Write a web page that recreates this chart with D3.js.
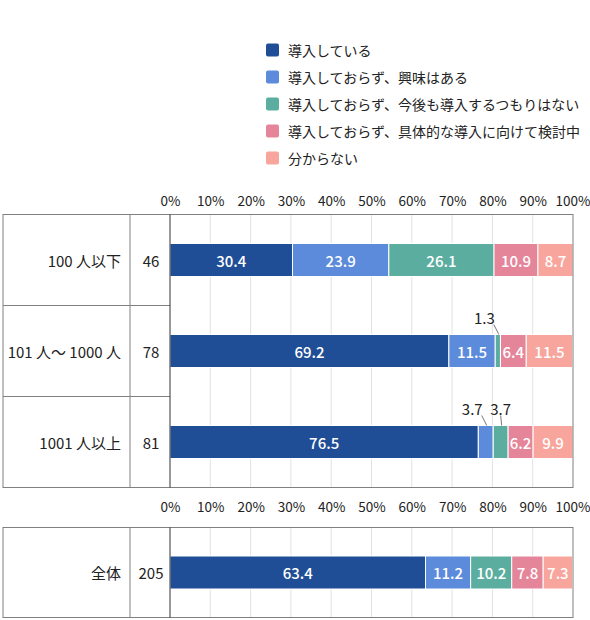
<!DOCTYPE html>
<html><head><meta charset="utf-8">
<script src="https://cdn.jsdelivr.net/npm/d3@7"></script>
<style>body{margin:0;background:#fff;}svg{display:block;font-family:"Noto Sans CJK JP","Noto Sans",sans-serif;}</style>
</head><body>
<svg id="c" width="590" height="620"></svg>
<script>
const seriesNames = ["導入している","導入しておらず、興味はある","導入しておらず、今後も導入するつもりはない","導入しておらず、具体的な導入に向けて検討中","分からない"];
const colors = ["#1F4E96","#5B8BDA","#5BAE9F","#E4859A","#F8A69D"];
const groupLabels = ["100 人以下","101 人～ 1000 人","1001 人以上"];
const groupCounts = [46,78,81];
const groupValues = [
  [30.4,23.9,26.1,10.9,8.7],
  [69.2,11.5,1.3,6.4,11.5],
  [76.5,3.7,3.7,6.2,9.9]
];
const totalLabel = ["全体"];
const totalCount = [205];
const totalValues = [[63.4,11.2,10.2,7.8,7.3]];
const tickValues = [0,10,20,30,40,50,60,70,80,90,100];

const svg = d3.select("#c");
const x = d3.scaleLinear().domain([0,100]).range([170,573]);
const lineCol = "#808080";

// legend
const leg = svg.append("g");
seriesNames.forEach((n,i)=>{
  const yy = 50 + i*27;
  leg.append("rect").attr("x",266).attr("y",yy-6.5).attr("width",13).attr("height",13).attr("rx",2).attr("fill",colors[i]);
  leg.append("text").attr("x",288).attr("y",yy).attr("dominant-baseline","central").attr("font-size",14).attr("fill","#222").text(n);
});

function drawTable(labels, counts, values, top, bottom, axisY){
  const g = svg.append("g");
  const y = d3.scaleBand().domain(labels).range([top,bottom]);
  // axis
  const ax = g.append("g").attr("transform",`translate(0,${axisY})`)
    .call(d3.axisTop(x).tickValues(tickValues).tickSize(0).tickFormat(d=>d+"%"));
  ax.select(".domain").remove();
  ax.selectAll("text").attr("font-size",13.5).attr("fill","#222").attr("font-family","Noto Sans CJK JP").attr("dy","0.35em").attr("y",0)
    .attr("text-anchor",d=>d===100?"end":"middle").attr("x",d=>d===100?17:0);
  // gridlines
  g.selectAll("line.grid").data(tickValues.slice(1,-1)).join("line")
    .attr("x1",d=>x(d)).attr("x2",d=>x(d)).attr("y1",top).attr("y2",bottom)
    .attr("stroke","#e2e2e2").attr("stroke-width",1);
  // bars
  const bh = 33;
  labels.forEach((lab,ri)=>{
    const vals = values[ri];
    const cy = y(lab) + y.bandwidth()/2;
    const by = cy - bh/2;
    let cum = 0;
    const segs = vals.map((v,i)=>{const s={v,i,x0:cum,x1:cum+v}; cum+=v; return s;});
    g.selectAll(null).data(segs).join("rect")
      .attr("x",d=>x(d.x0)).attr("y",by).attr("width",d=>x(d.x1)-x(d.x0)).attr("height",bh)
      .attr("fill",d=>colors[d.i]).attr("stroke","#fff").attr("stroke-width",1);
    segs.forEach((s,k)=>{
      const mid = x((s.x0+s.x1)/2);
      if(s.v>=5){
        g.append("text").attr("x",mid).attr("y",cy).attr("text-anchor","middle").attr("dominant-baseline","central")
          .attr("font-size",15).attr("font-weight",500).attr("fill","#fff").attr("font-family","Noto Sans CJK JP").text(s.v.toFixed(1));
      } else {
        const prevSmall = k>0 && segs[k-1].v<5;
        const lx = prevSmall ? mid : mid-13.5;
        const ly = by - 17;
        g.append("text").attr("x",lx).attr("y",ly).attr("text-anchor","middle").attr("dominant-baseline","central")
          .attr("font-size",15).attr("fill","#222").attr("font-family","Noto Sans CJK JP").text(s.v.toFixed(1));
        g.append("line").attr("x1",lx+(mid-lx)*0.7).attr("y1",ly+7).attr("x2",mid+1).attr("y2",by)
          .attr("stroke","#555").attr("stroke-width",0.8);
      }
    });
    // labels
    g.append("text").attr("x",121).attr("y",cy).attr("text-anchor","end").attr("dominant-baseline","central")
      .attr("font-size",15).attr("fill","#222").text(lab);
    g.append("text").attr("x",151).attr("y",cy).attr("text-anchor","middle").attr("dominant-baseline","central")
      .attr("font-size",15).attr("fill","#222").text(counts[ri]);
  });
  // table lines
  labels.slice(1).forEach(lab=>{
    g.append("line").attr("x1",3).attr("x2",170).attr("y1",y(lab)).attr("y2",y(lab)).attr("stroke",lineCol);
  });
  g.append("rect").attr("x",3).attr("y",top).attr("width",570).attr("height",bottom-top).attr("fill","none").attr("stroke",lineCol);
  g.append("line").attr("x1",130).attr("x2",130).attr("y1",top).attr("y2",bottom).attr("stroke",lineCol);
  g.append("line").attr("x1",170).attr("x2",170).attr("y1",top).attr("y2",bottom).attr("stroke","#333");
}

drawTable(groupLabels, groupCounts, groupValues, 214.5, 487.5, 201);
drawTable(totalLabel, totalCount, totalValues, 527.5, 617.5, 507);
</script>
</body></html>
